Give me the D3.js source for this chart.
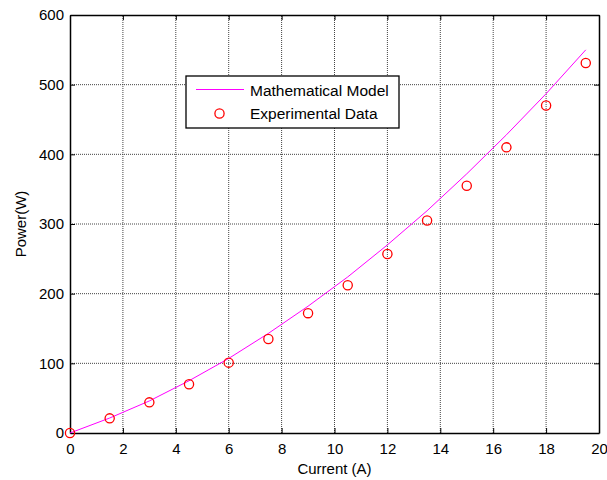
<!DOCTYPE html>
<html>
<head>
<meta charset="utf-8">
<script src="https://cdn.jsdelivr.net/npm/d3@7"></script>
<style>
  body { margin: 0; background: #fff; }
  text { font-family: "Liberation Sans", Arial, sans-serif; }
</style>
</head>
<body>
<div id="chart"></div>
<script>
/**
 * DATA
 * */
const current = [0, 1.5, 3, 4.5, 6, 7.5, 9, 10.5, 12, 13.5, 15, 16.5, 18, 19.5];
const experimental = [0, 21, 44, 70, 101, 135, 172, 212, 257, 305, 355, 410, 470, 531];
const model = [0, 21.5, 46, 75, 107, 143, 182, 224, 270, 319, 372, 428, 487, 550];
const xTicks = [0, 2, 4, 6, 8, 10, 12, 14, 16, 18, 20];
const yTicks = [0, 100, 200, 300, 400, 500, 600];

/**
 * CONSTANTS
 * */
const width = 607,
  height = 480,
  margin = { top: 15, bottom: 47, left: 70, right: 8 };

const svg = d3.select("#chart")
  .append("svg")
  .attr("width", width)
  .attr("height", height);

const x = d3.scaleLinear().domain([0, 20]).range([margin.left, width - margin.right]);
const y = d3.scaleLinear().domain([0, 600]).range([height - margin.bottom, margin.top]);

// grid
const grid = svg.append("g")
  .attr("stroke", "#444")
  .attr("stroke-width", 1)
  .attr("stroke-dasharray", "1,1");

grid.selectAll(".gx")
  .data(xTicks.slice(1, -1))
  .join("line")
  .attr("x1", d => x(d)).attr("x2", d => x(d))
  .attr("y1", y(0)).attr("y2", y(600));

grid.selectAll(".gy")
  .data(yTicks.slice(1, -1))
  .join("line")
  .attr("y1", d => y(d)).attr("y2", d => y(d))
  .attr("x1", x(0)).attr("x2", x(20));

// axes (ticks inward, MATLAB style)
const fontSize = "15px";
const xAxis = svg.append("g")
  .attr("transform", `translate(0,${y(0)})`)
  .call(d3.axisBottom(x).tickValues(xTicks).tickSizeInner(-5).tickSizeOuter(0).tickPadding(10));
const yAxis = svg.append("g")
  .attr("transform", `translate(${x(0)},0)`)
  .call(d3.axisLeft(y).tickValues(yTicks).tickSizeInner(-5).tickSizeOuter(0).tickPadding(6));
const xTop = svg.append("g")
  .attr("transform", `translate(0,${y(600)})`)
  .call(d3.axisTop(x).tickValues(xTicks).tickSizeInner(-5).tickSizeOuter(0).tickFormat(""));
const yRight = svg.append("g")
  .attr("transform", `translate(${x(20)},0)`)
  .call(d3.axisRight(y).tickValues(yTicks).tickSizeInner(-5).tickSizeOuter(0).tickFormat(""));

[xAxis, yAxis, xTop, yRight].forEach(a => {
  a.selectAll(".domain").attr("stroke", "#000").attr("stroke-width", 1.5);
  a.selectAll(".tick line").attr("stroke", "#000");
  a.selectAll("text")
    .attr("fill", "#000")
    .style("font-size", fontSize)
    .style("font-family", "'Liberation Sans', Arial, sans-serif");
});

// axis labels
svg.append("text")
  .attr("x", x(10))
  .attr("y", 474)
  .attr("text-anchor", "middle")
  .style("font-size", "15px")
  .text("Current (A)");

svg.append("text")
  .attr("transform", `translate(26,${(y(0) + y(600)) / 2}) rotate(-90)`)
  .attr("text-anchor", "middle")
  .style("font-size", "15px")
  .text("Power(W)");

// model line
const line = d3.line()
  .x((d, i) => x(current[i]))
  .y(d => y(d));

svg.append("path")
  .datum(model)
  .attr("fill", "none")
  .attr("stroke", "#ff00ff")
  .attr("stroke-width", 1)
  .attr("d", line);

// experimental points
svg.append("g")
  .selectAll("circle")
  .data(experimental)
  .join("circle")
  .attr("cx", (d, i) => x(current[i]))
  .attr("cy", d => y(d))
  .attr("r", 4.6)
  .attr("fill", "none")
  .attr("stroke", "#ff0000")
  .attr("stroke-width", 1.3);

// legend
const legend = svg.append("g");
legend.append("rect")
  .attr("x", 186).attr("y", 76)
  .attr("width", 213).attr("height", 52)
  .attr("fill", "#fff")
  .attr("stroke", "#000")
  .attr("stroke-width", 1.3);
legend.append("line")
  .attr("x1", 196).attr("x2", 244)
  .attr("y1", 89.5).attr("y2", 89.5)
  .attr("stroke", "#ff00ff")
  .attr("stroke-width", 1);
legend.append("circle")
  .attr("cx", 219.5).attr("cy", 113.5)
  .attr("r", 4.6)
  .attr("fill", "none")
  .attr("stroke", "#ff0000")
  .attr("stroke-width", 1.3);
legend.append("text")
  .attr("x", 250).attr("y", 95.5)
  .style("font-size", "15.5px")
  .text("Mathematical Model");
legend.append("text")
  .attr("x", 250).attr("y", 119)
  .style("font-size", "15.5px")
  .text("Experimental Data");
</script>
</body>
</html>
